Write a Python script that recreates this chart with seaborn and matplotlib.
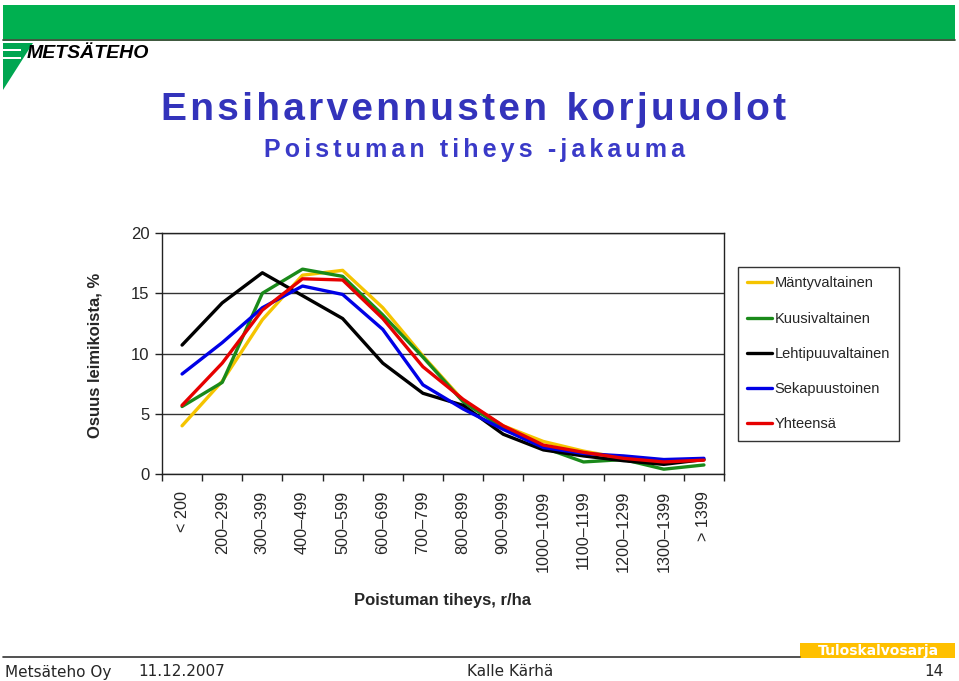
import matplotlib
matplotlib.use("Agg")
import matplotlib.pyplot as plt
import seaborn as sns
import pandas as pd
from matplotlib.patches import Rectangle, Polygon
from matplotlib.lines import Line2D

categories = ["< 200", "200–299", "300–399", "400–499", "500–599", "600–699", "700–799",
              "800–899", "900–999", "1000–1099", "1100–1199", "1200–1299", "1300–1399", "> 1399"]
mantyvaltainen = [4.0, 7.7, 12.8, 16.5, 16.9, 13.8, 9.8, 6.1, 4.0, 2.7, 1.9, 1.3, 1.0, 1.2]
kuusivaltainen = [5.6, 7.6, 15.0, 17.0, 16.4, 13.2, 9.7, 6.0, 3.8, 2.2, 1.0, 1.2, 0.4, 0.75]
lehtipuuvaltainen = [10.7, 14.2, 16.7, 14.8, 12.9, 9.2, 6.7, 5.7, 3.3, 2.0, 1.5, 1.1, 0.8, 1.2]
sekapuustoinen = [8.3, 10.9, 13.8, 15.6, 14.9, 12.0, 7.4, 5.4, 3.7, 2.2, 1.7, 1.5, 1.2, 1.3]
yhteensa = [5.7, 9.2, 13.6, 16.2, 16.1, 12.9, 8.9, 6.2, 4.0, 2.4, 1.8, 1.3, 1.0, 1.15]

series_names = ["Mäntyvaltainen", "Kuusivaltainen", "Lehtipuuvaltainen", "Sekapuustoinen", "Yhteensä"]
series_values = [mantyvaltainen, kuusivaltainen, lehtipuuvaltainen, sekapuustoinen, yhteensa]
colors = ["#f5c400", "#1a8a1a", "#000000", "#0000e6", "#e60000"]

y_ticks = [0, 5, 10, 15, 20]

rows = []
for name, vals in zip(series_names, series_values):
    for i, v in enumerate(vals):
        rows.append({"pos": i, "cat": categories[i], "value": v, "series": name})
df = pd.DataFrame(rows)

sns.set_style("white")
plt.rcParams["font.family"] = ["Liberation Sans", "DejaVu Sans"]

W, H = 959, 681
fig = plt.figure(figsize=(W / 100, H / 100), dpi=100)
fig.patch.set_facecolor("white")

def fx(x):
    return x / W

def fy(y):
    return 1 - y / H

def spaced(s, sep="\u200a"):
    return sep.join(list(s))

# Header band
fig.patches.append(Rectangle((fx(3), fy(39)), fx(952), 34 / H, transform=fig.transFigure,
                             facecolor="#00b050", edgecolor="none"))
fig.lines.append(Line2D([fx(3), fx(955)], [fy(39.5), fy(39.5)], transform=fig.transFigure,
                        color="#1a3a1a", lw=1.2))
# Logo
fig.patches.append(Polygon([(fx(3), fy(43)), (fx(33), fy(43)), (fx(3), fy(90))], closed=True,
                           transform=fig.transFigure, facecolor="#00a651", edgecolor="none"))
for yy in (49, 57):
    fig.patches.append(Rectangle((fx(3), fy(yy + 2)), fx(18), 2 / H, transform=fig.transFigure,
                                 facecolor="white", edgecolor="none"))
fig.text(fx(27), fy(53), "METSÄTEHO", fontsize=14, fontweight="bold", style="italic",
         color="black", ha="left", va="center", family="Liberation Sans")

# Titles
fig.text(fx(474), fy(110), "E n s i h a r v e n n u s t e n   k o r j u u o l o t".replace("   ", "\u2002").replace(" ", "\u200a"),
         fontsize=28, fontweight="bold", color="#3333bb", ha="center", va="center")
fig.text(fx(474), fy(150), spaced("Poistuman tiheys -jakauma", "\u2006"), fontsize=18,
         fontweight="bold", color="#3a3ac8", ha="center", va="center",
         family=["Liberation Sans", "DejaVu Sans"])

# Axes
ax = fig.add_axes([fx(162), fy(474), fx(724) - fx(162), (474 - 233) / H])
sns.lineplot(data=df, x="pos", y="value", hue="series", hue_order=series_names,
             palette=colors, linewidth=2.4, ax=ax, legend=False, sort=False)
ax.set_xlim(-0.5, len(categories) - 0.5)
ax.set_ylim(0, 20)
ax.set_yticks(y_ticks)
ax.set_yticklabels([str(t) for t in y_ticks], fontsize=12)
ax.yaxis.grid(True, color="#333333", linewidth=1.0)
ax.xaxis.grid(False)
for s in ax.spines.values():
    s.set_visible(True)
    s.set_color("#222222")
    s.set_linewidth(1.0)
ax.tick_params(axis="y", which="major", length=5, width=1, color="#222222", pad=4, left=True)
ax.set_xticks(range(len(categories)))
ax.set_xticklabels(categories, rotation=90, fontsize=11.7, va="top", ha="center")
ax.tick_params(axis="x", which="major", length=0, pad=12)
ax.set_xticks([i - 0.5 for i in range(len(categories) + 1)], minor=True)
ax.tick_params(axis="x", which="minor", length=5, width=1, color="#222222", bottom=True)
ax.set_xlabel("")
ax.set_ylabel("")

fig.text(fx(443), fy(600), "Poistuman tiheys, r/ha", fontsize=12, fontweight="bold",
         ha="center", va="center")
fig.text(fx(95), fy(355), "Osuus leimikoista, %", fontsize=12, fontweight="bold",
         ha="center", va="center", rotation=90)

# Legend
handles = [Line2D([0], [0], color=c, lw=2.4) for c in colors]
leg = fig.legend(handles, series_names, loc="upper left", bbox_to_anchor=(fx(738), fy(267)),
                 fontsize=10.5, frameon=True, fancybox=False, handlelength=1.7,
                 handletextpad=0.15, labelspacing=1.45, borderpad=0.65, borderaxespad=0)
leg.get_frame().set_edgecolor("black")
leg.get_frame().set_linewidth(1.0)

# Footer
fig.lines.append(Line2D([fx(3), fx(800)], [fy(657), fy(657)], transform=fig.transFigure,
                        color="#333333", lw=1.2))
fig.patches.append(Rectangle((fx(800), fy(658)), fx(155), 15 / H, transform=fig.transFigure,
                             facecolor="#ffc000", edgecolor="none"))
fig.text(fx(878), fy(650.5), "Tuloskalvosarja", fontsize=10, fontweight="bold", color="white",
         ha="center", va="center", family="DejaVu Sans Condensed")
fig.text(fx(5), fy(672), "Metsäteho Oy", fontsize=11, ha="left", va="center",
         family="DejaVu Sans Condensed")
fig.text(fx(138), fy(672), "11.12.2007", fontsize=11, ha="left", va="center",
         family="DejaVu Sans Condensed")
fig.text(fx(510), fy(672), "Kalle Kärhä", fontsize=11, ha="center", va="center",
         family="DejaVu Sans Condensed")
fig.text(fx(944), fy(672), "14", fontsize=11, ha="right", va="center",
         family="DejaVu Sans Condensed")

fig.savefig("out.png", dpi=100)
